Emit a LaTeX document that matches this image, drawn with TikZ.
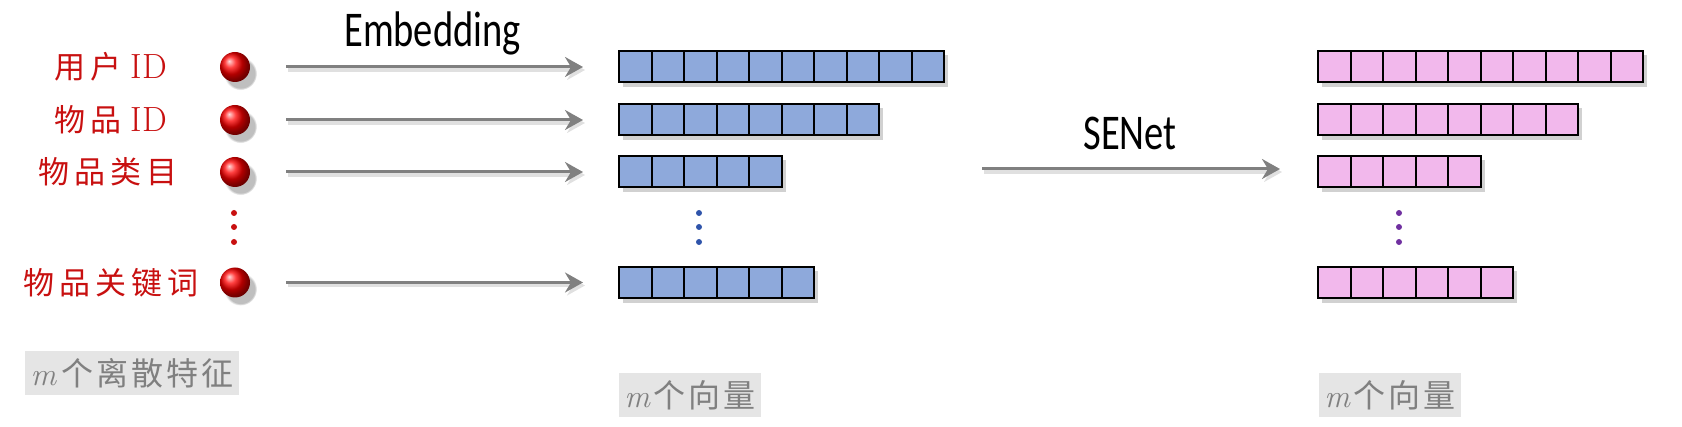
\documentclass[tikz,border=0pt]{standalone}
\usepackage{fontspec}
\newfontfamily\cjkA[LetterSpace=16]{Noto Sans CJK SC}
\newfontfamily\cjkB[LetterSpace=9]{Noto Sans CJK SC}
\newfontfamily\lat{Carlito}
\usetikzlibrary{arrows.meta,shadows,fadings}
\definecolor{lblred}{RGB}{200,16,16}
\definecolor{cellblue}{RGB}{142,169,219}
\definecolor{cellpink}{RGB}{242,184,236}
\definecolor{arrgray}{RGB}{128,128,128}
\definecolor{tagbg}{RGB}{229,229,229}
\definecolor{taggray}{RGB}{128,128,128}
\definecolor{dotblue}{RGB}{47,84,170}
\definecolor{dotpurple}{RGB}{112,48,160}
\tikzset{
  cell/.style={draw=black, line width=2pt, minimum width=32.5pt, minimum height=31pt, inner sep=0pt, outer sep=0pt},
  bluecell/.style={cell, fill=cellblue},
  pinkcell/.style={cell, fill=cellpink},
  barshadow/.style={fill=black, opacity=0.18},
  featball/.style={circle, minimum size=30pt, inner sep=0pt, outer sep=0pt, shading=ball, ball color=red,
    circular drop shadow={shadow xshift=5pt, shadow yshift=-6pt, opacity=0.5}},
  arr/.style={draw=arrgray, line width=3pt, -{Stealth[length=18pt,width=20pt,inset=6pt]}},
  arrshade/.style={draw=black!12, line width=4pt, -{Stealth[length=18pt,width=20pt,inset=6pt]}, transform canvas={xshift=2pt,yshift=-3pt}},
  featarr/.style={shorten <=36pt, shorten >=36pt},
  lbl/.style={text=lblred, inner sep=0pt, font=\fontsize{31}{36}\selectfont},
  title/.style={inner sep=0pt, font=\lat\fontsize{50}{56}\selectfont, anchor=base},
  tag/.style={fill=tagbg, text=taggray, inner sep=0pt, minimum height=44pt, font=\fontsize{32}{36}\selectfont},
  dotn/.style={circle, minimum size=6pt, inner sep=0pt, outer sep=0pt},
}
\newcommand\cellrow[5]{%
  \fill[barshadow] (#2+4,#3-15.5+4) rectangle (#2+#4*32.5+4,#3+15.5+5);
  \foreach \i in {1,...,#4}{\node[#5] (#1-\i) at ({#2+(\i-0.5)*32.5},#3) {};}
}
\newcommand\idtext{{\fontsize{35}{36}\selectfont ID}}
\begin{document}
\begin{tikzpicture}[x=1pt,y=-1pt]
\useasboundingbox (0,0) rectangle (1682,427);
% labels
\node[lbl] (l1) at (111,67) {{\cjkA 用户}\hspace{9pt}\idtext};
\node[lbl] (l2) at (111,120) {{\cjkA 物品}\hspace{9pt}\idtext};
\node[lbl] (l3) at (108,172) {\cjkA 物品类目};
\node[lbl] (l4) at (111,282.5) {\cjkA 物品关键词};
% balls
\node[featball] (b1) at (235,67) {};
\node[featball] (b2) at (235,120) {};
\node[featball] (b3) at (235,172) {};
\node[featball] (b4) at (235,282.5) {};
\node[dotn, fill=lblred] (rd1) at (234,213) {};
\node[dotn, fill=lblred] (rd2) at (234,227) {};
\node[dotn, fill=lblred] (rd3) at (234,242) {};
% blue bars
\cellrow{e1}{619}{67}{10}{bluecell}
\cellrow{e2}{619}{120}{8}{bluecell}
\cellrow{e3}{619}{172}{5}{bluecell}
\cellrow{e4}{619}{282.5}{6}{bluecell}
\node[dotn, fill=dotblue] (bd1) at (699,213) {};
\node[dotn, fill=dotblue] (bd2) at (699,227) {};
\node[dotn, fill=dotblue] (bd3) at (699,242) {};
% pink bars
\cellrow{p1}{1318}{67}{10}{pinkcell}
\cellrow{p2}{1318}{120}{8}{pinkcell}
\cellrow{p3}{1318}{172}{5}{pinkcell}
\cellrow{p4}{1318}{282.5}{6}{pinkcell}
\node[dotn, fill=dotpurple] (pd1) at (1399,213) {};
\node[dotn, fill=dotpurple] (pd2) at (1399,227) {};
\node[dotn, fill=dotpurple] (pd3) at (1399,242) {};
% arrows
\foreach \k in {1,2,3,4}{
  \draw[arrshade, featarr] (b\k) -- (e\k-1);
  \draw[arr, featarr] (b\k) -- (e\k-1);
}
\coordinate (s1) at (982,169);
\coordinate (s2) at (1280,169);
\draw[arrshade] (s1) -- (s2);
\draw[arr] (s1) -- (s2);
% titles
\node[title] (emb) at (432.5,47) {\scalebox{0.77}[1]{Embedding}};
\node[title] (sen) at (1130,150) {\scalebox{0.77}[1]{SENet}};
% bottom tags
\node[tag, minimum width=214pt] (t1) at (132,373) {\textit{m}\hspace{5pt}{\cjkB 个离散特征}};
\node[tag, minimum width=142pt] (t2) at (690,395) {\textit{m}\hspace{3pt}{\cjkB 个向量}};
\node[tag, minimum width=142pt] (t3) at (1390,395) {\textit{m}\hspace{3pt}{\cjkB 个向量}};
\end{tikzpicture}
\end{document}
